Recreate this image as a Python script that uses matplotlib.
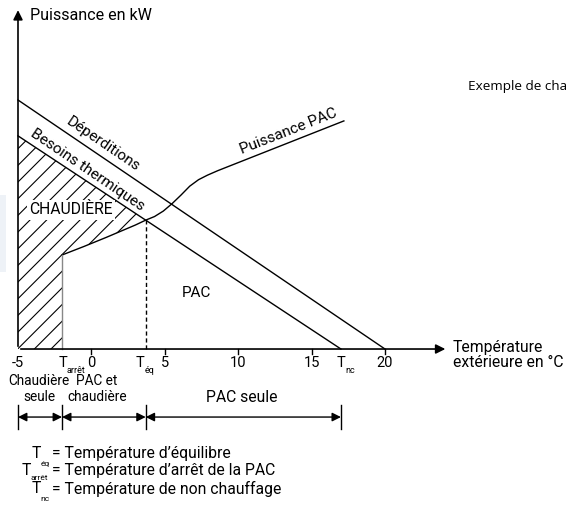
import numpy as np
import matplotlib
matplotlib.use("Agg")
import matplotlib.pyplot as plt
from matplotlib.patches import Rectangle

plt.rcParams['font.family'] = ['Roboto', 'DejaVu Sans']
plt.rcParams['hatch.linewidth'] = 0.8

# temperatures (°C)
t_arret = -2.0
t_eq = 3.7
t_nc = 17.0
tick_values = [-5, 0, 5, 10, 15, 20]
tick_labels = ['-5', '0', '5', '10', '15', '20']

# power curves (kW, schematic units)
deperditions_t = [-5, 20]
deperditions_p = [25, 0]
besoins_t = [-5, t_nc]
besoins_p = [21.4, 0]
pac_t = [-2.0, -0.5, 1.0, 2.2, 3.0, 3.7, 4.3, 4.9, 5.5, 6.1, 6.7, 7.3, 7.9, 8.6, 17.2]
pac_p = [9.44, 10.3, 11.2, 11.95, 12.45, 12.94, 13.3, 13.85, 14.6, 15.45, 16.35, 17.0,
         17.45, 17.9, 22.9]

fig = plt.figure(figsize=(5.67, 5.05), dpi=100)
ax = fig.add_axes([0, 0, 1, 1])
ax.set_xlim(-6.226, 32.40)
ax.set_ylim(-15.66, 35.04)
ax.axis('off')

FS = 11

# faint artefact box on the left
ax.add_patch(Rectangle((-6.226, 7.7), 0.42, 7.8, color='#eef2f7', lw=0, zorder=0))

# hatched boiler zone
pac_t = np.array(pac_t)
pac_p = np.array(pac_p)
seg = pac_t <= t_eq
poly_t = [-5, t_arret] + list(pac_t[seg]) + [-5]
poly_p = [0, 0] + list(pac_p[seg]) + [np.interp(-5, besoins_t, besoins_p)]
ax.fill(poly_t, poly_p, facecolor='white', edgecolor='black', hatch='//', lw=0, zorder=1)

# curves
ax.plot(deperditions_t, deperditions_p, color='black', lw=1.0, zorder=3)
ax.plot(besoins_t, besoins_p, color='black', lw=1.0, zorder=3)
ax.plot(pac_t, pac_p, color='black', lw=1.0, zorder=3)
ax.plot([t_arret, t_arret], [0, pac_p[0]], color='#888888', lw=1.0, zorder=3)
ax.plot([t_eq, t_eq], [0, np.interp(t_eq, besoins_t, besoins_p)], color='black',
        lw=1.0, ls=(0, (3, 2)), zorder=3)

# axes with arrows
ax.annotate('', xy=(-5, 34.3), xytext=(-5, 0),
            arrowprops=dict(arrowstyle='-|>', color='black', lw=1.2, mutation_scale=14))
ax.annotate('', xy=(24.3, 0), xytext=(-5, 0),
            arrowprops=dict(arrowstyle='-|>', color='black', lw=1.2, mutation_scale=14))
ax.text(-4.18, 33.5, 'Puissance en kW', fontsize=11.6, va='center', ha='left')
ax.text(24.63, -0.6, 'Température\nextérieure en °C', fontsize=11.3, va='center', ha='left',
        linespacing=0.98)

for v, lab in zip(tick_values, tick_labels):
    if v != -5:
        ax.plot([v, v], [0, -0.45], color='black', lw=1.0)
    ax.text(v, -1.36, lab, fontsize=10.5, ha='center', va='center')

# T labels under axis
for tv, sub, dt, ds in [(t_arret, 'arrêt', 0.03, 0.3), (t_eq, 'éq', -0.39, -0.05),
                        (t_nc, 'nc', 0.0, 0.27)]:
    ax.text(tv + dt, -1.36, 'T', fontsize=10.5, ha='center', va='center')
    ax.text(tv + ds, -2.2, sub, fontsize=6.5, ha='left', va='center')

# curve labels
ax.text(0.79, 20.6, 'Déperditions', fontsize=FS, rotation=-34.2, ha='center', va='center',
        rotation_mode='anchor')
ax.text(-0.27, 17.97, 'Besoins thermiques', fontsize=FS, rotation=-34.2, ha='center',
        va='center', rotation_mode='anchor')
ax.text(13.46, 21.8, 'Puissance PAC', fontsize=FS, rotation=21.5, ha='center', va='center',
        rotation_mode='anchor')
ax.text(-1.39, 13.96, 'CHAUDIÈRE', fontsize=11.3, ha='center', va='center', zorder=4,
        bbox=dict(facecolor='white', edgecolor='none', pad=1.5))
ax.text(7.13, 5.6, 'PAC', fontsize=FS, ha='center', va='center')

# zones under the axis
ax.text(-3.57, -4.0, 'Chaudière\nseule', fontsize=9.8, ha='center', va='center', linespacing=1.15)
ax.text(0.37, -4.0, 'PAC et\nchaudière', fontsize=9.8, ha='center', va='center', linespacing=1.15)
ax.text(10.26, -4.82, 'PAC seule', fontsize=11.3, ha='center', va='center')

bounds = [-5, t_arret, t_eq, t_nc]
for b in bounds:
    ax.plot([b, b], [-5.6, -8.0], color='black', lw=1.0)
for a, b in zip(bounds[:-1], bounds[1:]):
    ax.annotate('', xy=(b, -6.83), xytext=(a, -6.83),
                arrowprops=dict(arrowstyle='<|-|>', color='black', lw=1.0,
                                mutation_scale=13, shrinkA=0, shrinkB=0))

# legend block: (subscript, text, T left, subscript left, row y, subscript y)
legend_rows = [('éq', 'Température d’équilibre', -4.05, -3.45, -10.49, -11.55),
               ('arrêt', 'Température d’arrêt de la PAC', -4.75, -4.15, -12.2, -12.95),
               ('nc', 'Température de non chauffage', -4.05, -3.45, -14.05, -15.05)]
for sub, txt, tx, sx, y, sy in legend_rows:
    ax.text(-2.68, y, '= ' + txt, fontsize=11.3, ha='left', va='center')
    ax.text(tx, y, 'T', fontsize=11.3, ha='left', va='center')
    ax.text(sx, sy, sub, fontsize=6.0, ha='left', va='center')

ax.text(25.65, 26.4, 'Exemple de cha', fontsize=9.7, family='Open Sans', ha='left', va='center')

fig.savefig('out.png', dpi=100)
